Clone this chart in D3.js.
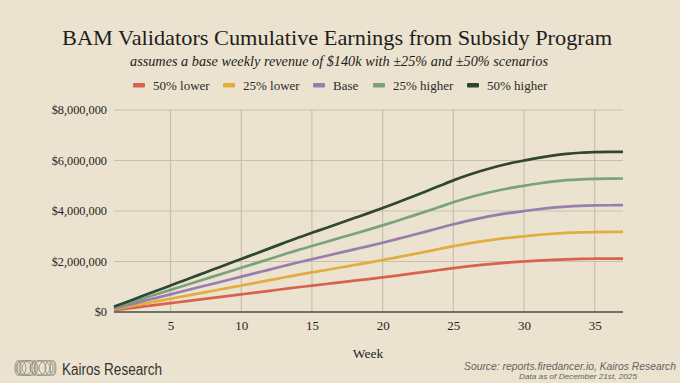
<!DOCTYPE html>
<html><head><meta charset="utf-8">
<script src="https://cdn.jsdelivr.net/npm/d3@7"></script>
<style>
html,body{margin:0;padding:0;background:#ebe3d0;}
svg{display:block;}
</style></head>
<body>
<svg id="c" width="680" height="383"></svg>
<script>
const weeks = d3.range(1, 38);
const seriesNames = ["50% lower", "25% lower", "Base", "25% higher", "50% higher"];
const seriesColors = ["#d8624b", "#e1ad3f", "#9a7cae", "#79a27d", "#2f4732"];
// cumulative earnings, in thousands of USD, weeks 1..37
const lower50 = [70,140,210,280,350,420,490,560,630,700,770,840,910,980,1045,1110,1175,1240,1305,1373,1443,1515,1588,1663,1738,1805,1865,1918,1963,2000,2035,2065,2088,2103,2110,2114,2115];
const lower25 = [105,210,315,420,525,630,735,840,945,1050,1155,1260,1365,1470,1568,1665,1763,1860,1958,2059,2164,2273,2381,2494,2606,2708,2798,2876,2944,3000,3053,3098,3131,3154,3165,3171,3173];
const base = [140,280,420,560,700,840,980,1120,1260,1400,1540,1680,1820,1960,2090,2220,2350,2480,2610,2745,2885,3030,3175,3325,3475,3610,3730,3835,3925,4000,4070,4130,4175,4205,4220,4228,4230];
const higher25 = [175,350,525,700,875,1050,1225,1400,1575,1750,1925,2100,2275,2450,2613,2775,2938,3100,3263,3431,3606,3788,3969,4156,4344,4513,4663,4794,4906,5000,5088,5163,5219,5256,5275,5285,5288];
const higher50 = [210,420,630,840,1050,1260,1470,1680,1890,2100,2310,2520,2730,2940,3135,3330,3525,3720,3915,4118,4328,4545,4763,4988,5213,5415,5595,5753,5888,6000,6105,6195,6263,6308,6330,6342,6345];
const xTicks = [5,10,15,20,25,30,35];
const yTicks = [0,2000000,4000000,6000000,8000000];
const seriesValues = [lower50, lower25, base, higher25, higher50];

const svg = d3.select("#c");
const serif = "'Liberation Serif','Times New Roman',serif";
const sans = "'Liberation Sans',Arial,sans-serif";
const L = 114, R = 623, T = 110, B = 312;

svg.append("rect").attr("width",680).attr("height",383).attr("fill","#ebe3d0");

const x = d3.scaleLinear().domain([1,37]).range([L,R]);
const y = d3.scaleLinear().domain([0,8000000]).range([B,T]);

// titles
svg.append("text").attr("x",337).attr("y",45).attr("text-anchor","middle")
  .attr("font-family",serif).attr("font-size",22).attr("fill","#1d1d1b")
  .attr("textLength",550).attr("lengthAdjust","spacingAndGlyphs")
  .text("BAM Validators Cumulative Earnings from Subsidy Program");
svg.append("text").attr("x",339).attr("y",66).attr("text-anchor","middle")
  .attr("font-family",serif).attr("font-style","italic").attr("font-size",14.5).attr("fill","#1d1d1b")
  .attr("textLength",418).attr("lengthAdjust","spacingAndGlyphs")
  .text("assumes a base weekly revenue of $140k with ±25% and ±50% scenarios");

// legend
const legendX = [133, 223, 313, 373, 467];
const lg = svg.append("g");
seriesNames.forEach((n,i)=>{
  lg.append("rect").attr("x",legendX[i]).attr("y",83).attr("width",12).attr("height",4.5).attr("rx",1)
    .attr("fill",seriesColors[i]);
  lg.append("text").attr("x",legendX[i]+20).attr("y",89.5).attr("font-family",serif).attr("font-size",13)
    .attr("fill","#2a2a28").text(n);
});

// gridlines
const grid = svg.append("g");
grid.selectAll(".hy").data(yTicks.filter(d=>d>0)).join("line")
  .attr("x1",L).attr("x2",R).attr("y1",d=>y(d)).attr("y2",d=>y(d))
  .attr("stroke","#c9bfac").attr("stroke-width",1.2);
grid.selectAll(".vx").data(xTicks).join("line")
  .attr("x1",d=>x(d)).attr("x2",d=>x(d)).attr("y1",T).attr("y2",B)
  .attr("stroke","#c9bfac").attr("stroke-width",1.2);

// axes
const yAxis = d3.axisLeft(y).tickValues(yTicks).tickSize(0).tickPadding(7)
  .tickFormat(d=>"$"+d3.format(",")(d));
const ya = svg.append("g").attr("transform",`translate(${L},0)`).call(yAxis);
ya.select(".domain").remove();
ya.selectAll("text").attr("font-family",serif).attr("font-size",12.3).attr("fill","#1f1f1d");

const xAxis = d3.axisBottom(x).tickValues(xTicks).tickSize(0).tickPadding(9).tickFormat(d3.format("d"));
const xa = svg.append("g").attr("transform",`translate(0,${B})`).call(xAxis);
xa.select(".domain").remove();
xa.selectAll("text").attr("font-family",serif).attr("font-size",13).attr("fill","#1f1f1d");

svg.append("text").attr("x",368).attr("y",358).attr("text-anchor","middle")
  .attr("font-family",serif).attr("font-size",13.5).attr("fill","#1f1f1d").text("Week");

// lines
const line = d3.line().x((d,i)=>x(weeks[i])).y(d=>y(d*1000)).curve(d3.curveMonotoneX);
seriesValues.forEach((vals,i)=>{
  svg.append("path").datum(vals).attr("d",line).attr("fill","none")
    .attr("stroke",seriesColors[i]).attr("stroke-width",2.7).attr("stroke-linecap","butt");
});

// baseline
svg.append("line").attr("x1",L).attr("x2",R).attr("y1",B).attr("y2",B)
  .attr("stroke","#4a4a44").attr("stroke-width",1.5);

// logo
const logo = svg.append("g").attr("fill","none").attr("stroke","#8c867a").attr("stroke-width",0.8);
const ex = [16,19,22,25,28,32,36,40,44,48,51];
const erx = [3,5,7,8,8,2,8,8,7,5,3];
ex.forEach((cx,i)=>{
  logo.append("ellipse").attr("cx",cx+2).attr("cy",368).attr("rx",erx[i]).attr("ry",7.5);
});
svg.append("text").attr("x",62).attr("y",375).attr("font-family",sans).attr("font-size",16)
  .attr("textLength",100).attr("lengthAdjust","spacingAndGlyphs")
  .attr("fill","#333330").text("Kairos Research");

// source
svg.append("text").attr("x",676).attr("y",370).attr("text-anchor","end")
  .attr("font-family",sans).attr("font-style","italic").attr("font-size",10.5).attr("fill","#66625a")
  .attr("textLength",212).attr("lengthAdjust","spacingAndGlyphs")
  .text("Source: reports.firedancer.io, Kairos Research");
svg.append("text").attr("x",637).attr("y",378.5).attr("text-anchor","end")
  .attr("font-family",sans).attr("font-style","italic").attr("font-size",8).attr("fill","#66625a")
  .attr("textLength",118).attr("lengthAdjust","spacingAndGlyphs")
  .text("Data as of December 21st, 2025");
</script>
</body></html>
